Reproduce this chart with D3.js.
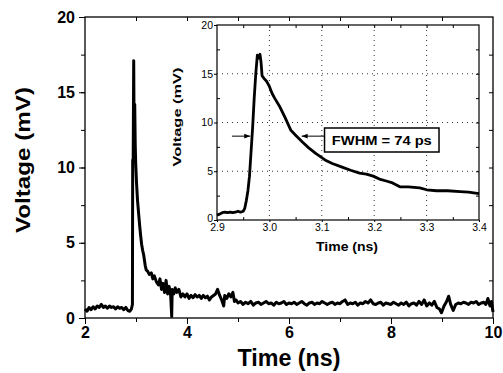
<!DOCTYPE html>
<html>
<head>
<meta charset="utf-8">
<script src="https://cdn.jsdelivr.net/npm/d3@7"></script>
<style>
  body { margin: 0; background: #fff; }
  text { font-family: "Liberation Sans", Arial, sans-serif; }
</style>
</head>
<body>
<div id="chart"></div>
<script>
// main trace (ns, mV)
var mainTime = [2.00,2.04,2.08,2.12,2.16,2.20,2.24,2.28,2.32,2.36,2.40,2.44,2.48,2.52,2.56,2.60,2.64,2.68,2.72,2.76,2.80,2.84,2.88,2.91,2.93,
  2.935,2.945,2.955,2.965,2.975,2.985,2.995,3.01,3.03,3.05,3.07,3.09,3.11,3.13,3.15,3.18,3.20,3.23,3.26,3.30,3.33,3.36,3.40,3.44,3.47,
  3.50,3.53,3.56,3.59,3.62,3.65,3.68,3.70,3.71,3.74,3.77,3.80,3.84,3.88,3.92,3.96,4.00,4.04,4.08,4.12,4.16,4.20,4.24,4.28,4.32,4.36,
  4.40,4.44,4.48,4.52,4.56,4.60,4.64,4.68,4.72,4.74,4.78,4.82,4.86,4.90,4.93,4.96,5.00,5.05,5.10,5.15,5.20,5.25,5.30,5.35,5.40,5.45,
  5.50,5.55,5.60,5.65,5.70,5.75,5.80,5.85,5.90,5.95,6.00,6.05,6.10,6.15,6.20,6.25,6.30,6.35,6.40,6.45,6.50,6.55,6.60,6.65,6.70,6.75,
  6.80,6.85,6.90,6.95,7.00,7.05,7.10,7.15,7.20,7.25,7.30,7.35,7.40,7.45,7.50,7.55,7.60,7.65,7.70,7.75,7.80,7.85,7.90,7.95,8.00,8.05,
  8.10,8.15,8.20,8.25,8.30,8.35,8.40,8.45,8.50,8.55,8.60,8.65,8.70,8.75,8.80,8.85,8.90,8.95,8.99,9.04,9.09,9.13,9.17,9.22,9.27,9.32,
  9.37,9.42,9.47,9.52,9.57,9.62,9.67,9.72,9.77,9.82,9.86,9.90,9.94,9.97,10.0];
var mainVolt = [0.6,0.45,0.7,0.55,0.75,0.6,0.8,0.7,0.9,0.7,0.8,0.65,0.8,0.7,0.75,0.6,0.75,0.65,0.7,0.55,0.7,0.5,0.45,0.6,0.9,
  10.5,10.5,17.1,11.0,14.2,11.5,10.2,9.0,7.8,7.0,6.2,5.5,4.9,4.5,4.2,3.5,3.2,3.1,2.9,3.0,2.6,2.8,2.4,2.2,2.6,
  1.9,2.3,1.7,2.5,1.6,2.1,1.5,0.1,1.9,1.6,2.0,1.7,1.9,1.4,1.6,1.4,1.6,1.3,1.5,1.35,1.55,1.4,1.5,1.3,1.5,1.35,
  1.45,1.2,1.4,1.5,1.6,1.9,1.5,1.2,0.8,1.5,1.3,1.6,1.4,1.7,1.1,1.2,1.0,1.1,0.9,1.05,0.95,1.1,0.85,1.0,1.05,0.9,
  1.0,1.1,0.95,1.0,0.85,1.05,0.95,1.0,1.1,0.9,1.0,0.95,1.05,0.9,1.0,1.1,0.95,0.85,1.0,1.05,0.9,1.0,0.95,1.1,1.0,0.9,
  1.0,1.05,0.9,1.0,0.95,1.1,1.2,0.9,1.0,0.95,1.05,0.85,1.0,0.95,1.1,1.0,1.2,0.95,0.9,1.0,1.05,0.85,1.0,0.95,0.9,1.05,
  0.95,0.85,1.0,0.9,1.05,0.8,0.95,1.0,0.85,1.1,0.9,1.2,0.8,1.0,0.85,1.1,0.7,0.6,0.35,0.8,1.1,1.45,0.9,0.5,0.9,1.0,
  0.95,1.05,1.0,0.9,1.05,1.0,1.1,0.9,1.0,1.05,0.9,1.3,0.8,1.1,0.4];

// inset trace, zoom on the pulse
var insetTime = [2.900,2.905,2.910,2.915,2.920,2.925,2.930,2.935,2.940,2.945,2.950,2.953,2.956,2.959,2.962,2.965,2.968,2.971,2.974,2.977,
  2.980,2.982,2.984,2.986,2.990,2.995,3.000,3.005,3.010,3.019,3.030,3.041,3.050,3.063,3.075,3.089,3.100,3.108,3.120,3.140,
  3.155,3.172,3.185,3.198,3.210,3.223,3.235,3.249,3.265,3.287,3.300,3.319,3.340,3.364,3.380,3.400];
var insetVolt = [0.5,0.6,0.75,0.8,0.75,0.8,0.75,0.8,0.9,0.8,0.9,1.2,2.0,3.0,4.5,7.0,9.5,12.5,15.0,16.9,
  16.6,17.0,16.2,14.8,14.5,14.2,13.7,13.0,12.5,11.7,10.5,9.2,8.7,8.0,7.4,6.8,6.4,6.1,5.8,5.4,
  5.1,4.8,4.7,4.5,4.2,4.0,3.8,3.4,3.4,3.3,3.1,3.0,3.0,2.9,2.85,2.7];

var mainXTicks = [2, 4, 6, 8, 10];
var mainYTicks = [0, 5, 10, 15, 20];
var insetXTicks = [2.9, 3.0, 3.1, 3.2, 3.3, 3.4];
var insetYTicks = [0, 5, 10, 15, 20];
var fwhmLabel = "FWHM = 74 ps";

var width = 503, height = 373;

var svg = d3.select('#chart').append('svg')
    .attr('width', width)
    .attr('height', height);

// ---- main plot ----
var x = d3.scaleLinear().domain([2, 10]).range([85, 493]);
var y = d3.scaleLinear().domain([0, 20]).range([318, 17]);

svg.append('rect')
    .attr('x', x(2)).attr('y', y(20))
    .attr('width', x(10) - x(2)).attr('height', y(0) - y(20))
    .attr('fill', 'none').attr('stroke', '#000').attr('stroke-width', 1.3);

// bottom/left: ticks outward
svg.append('g').attr('transform', 'translate(0,' + y(0) + ')')
    .call(d3.axisBottom(x).tickValues(d3.range(2, 10.01, 1)).tickSize(4).tickFormat(''))
    .call(g => g.select('.domain').remove());
svg.append('g').attr('transform', 'translate(0,' + y(0) + ')')
    .call(d3.axisBottom(x).tickValues(mainXTicks).tickSize(6).tickFormat(d3.format('d')).tickPadding(3))
    .call(g => g.select('.domain').remove())
    .selectAll('text').style('font-size', '16px').style('font-weight', 'bold').attr('fill', '#000');

svg.append('g').attr('transform', 'translate(' + x(2) + ',0)')
    .call(d3.axisLeft(y).tickValues(d3.range(0, 20.01, 2.5)).tickSize(4).tickFormat(''))
    .call(g => g.select('.domain').remove());
svg.append('g').attr('transform', 'translate(' + x(2) + ',0)')
    .call(d3.axisLeft(y).tickValues(mainYTicks).tickSize(6).tickFormat(d3.format('d')).tickPadding(4))
    .call(g => g.select('.domain').remove())
    .selectAll('text').style('font-size', '16px').style('font-weight', 'bold').attr('fill', '#000');

// top/right: ticks inward
svg.append('g').attr('transform', 'translate(0,' + y(20) + ')')
    .call(d3.axisBottom(x).tickValues(d3.range(3, 10, 1)).tickSize(4).tickFormat(''))
    .call(g => g.select('.domain').remove());
svg.append('g').attr('transform', 'translate(' + x(10) + ',0)')
    .call(d3.axisLeft(y).tickValues(d3.range(2.5, 20, 2.5)).tickSize(4).tickFormat(''))
    .call(g => g.select('.domain').remove());

svg.selectAll('.tick line').attr('stroke', '#000');

var mainLine = d3.line()
    .x(function(d, i) { return x(mainTime[i]); })
    .y(function(d) { return y(d); });

svg.append('path')
    .attr('d', mainLine(mainVolt))
    .attr('fill', 'none')
    .attr('stroke', '#000')
    .attr('stroke-width', 3)
    .attr('stroke-linejoin', 'round');

svg.append('text')
    .attr('x', 289).attr('y', 366)
    .attr('text-anchor', 'middle')
    .attr('textLength', 103).attr('lengthAdjust', 'spacingAndGlyphs')
    .style('font-size', '24px').style('font-weight', 'bold')
    .text('Time (ns)');

svg.append('text')
    .attr('transform', 'translate(30,160) rotate(-90)')
    .attr('text-anchor', 'middle')
    .attr('textLength', 146).attr('lengthAdjust', 'spacingAndGlyphs')
    .style('font-size', '20px').style('font-weight', 'bold')
    .text('Voltage (mV)');

// ---- inset ----
var xi = d3.scaleLinear().domain([2.9, 3.4]).range([217, 479]);
var yi = d3.scaleLinear().domain([0, 20]).range([220, 25]);

svg.append('rect')
    .attr('x', xi(2.9)).attr('y', yi(20))
    .attr('width', xi(3.4) - xi(2.9)).attr('height', yi(0) - yi(20))
    .attr('fill', '#fff').attr('stroke', '#000').attr('stroke-width', 1.2);

// dotted grid
svg.append('g').selectAll('line.gx')
    .data(insetXTicks.slice(1, -1)).enter().append('line')
    .attr('x1', d => xi(d)).attr('x2', d => xi(d))
    .attr('y1', yi(20)).attr('y2', yi(0))
    .attr('stroke', '#333').attr('stroke-width', 1).attr('stroke-dasharray', '1,4');
svg.append('g').selectAll('line.gy')
    .data(insetYTicks.slice(1, -1)).enter().append('line')
    .attr('x1', xi(2.9)).attr('x2', xi(3.4))
    .attr('y1', d => yi(d)).attr('y2', d => yi(d))
    .attr('stroke', '#333').attr('stroke-width', 1).attr('stroke-dasharray', '1,4');

// inset ticks
svg.append('g').attr('transform', 'translate(0,' + yi(0) + ')')
    .call(d3.axisTop(xi).tickValues(d3.range(2.95, 3.4, 0.1)).tickSize(3).tickFormat(''))
    .call(g => g.select('.domain').remove());
svg.append('g').attr('transform', 'translate(0,' + yi(0) + ')')
    .call(d3.axisBottom(xi).tickValues(insetXTicks).tickSize(2).tickFormat(d3.format('.1f')).tickPadding(2))
    .call(g => g.select('.domain').remove())
    .selectAll('text').style('font-size', '10.5px').attr('fill', '#000');
svg.append('g').attr('transform', 'translate(0,' + yi(20) + ')')
    .call(d3.axisBottom(xi).tickValues(d3.range(2.95, 3.4, 0.05)).tickSize(3).tickFormat(''))
    .call(g => g.select('.domain').remove());
svg.append('g').attr('transform', 'translate(' + xi(2.9) + ',0)')
    .call(d3.axisRight(yi).tickValues(d3.range(2.5, 20, 5)).tickSize(3).tickFormat(''))
    .call(g => g.select('.domain').remove());
svg.append('g').attr('transform', 'translate(' + xi(2.9) + ',0)')
    .call(d3.axisLeft(yi).tickValues(insetYTicks).tickSize(3).tickFormat(d3.format('d')).tickPadding(1))
    .call(g => g.select('.domain').remove())
    .selectAll('text').style('font-size', '10.5px').attr('fill', '#000')
    .attr('dy', d => d === 0 ? '0.1em' : '0.32em');
svg.append('g').attr('transform', 'translate(' + xi(3.4) + ',0)')
    .call(d3.axisLeft(yi).tickValues(d3.range(2.5, 20, 2.5)).tickSize(3).tickFormat(''))
    .call(g => g.select('.domain').remove());

svg.selectAll('.tick line').attr('stroke', '#000');

var insetLine = d3.line()
    .x(function(d, i) { return xi(insetTime[i]); })
    .y(function(d) { return yi(d); });

svg.append('path')
    .attr('d', insetLine(insetVolt))
    .attr('fill', 'none')
    .attr('stroke', '#000')
    .attr('stroke-width', 2.8)
    .attr('stroke-linejoin', 'round');

svg.append('text')
    .attr('x', 347).attr('y', 251)
    .attr('text-anchor', 'middle')
    .attr('textLength', 62).attr('lengthAdjust', 'spacingAndGlyphs')
    .style('font-size', '12.5px').style('font-weight', 'bold')
    .text('Time (ns)');

svg.append('text')
    .attr('transform', 'translate(181,117) rotate(-90)')
    .attr('text-anchor', 'middle')
    .attr('textLength', 99).attr('lengthAdjust', 'spacingAndGlyphs')
    .style('font-size', '11.5px').style('font-weight', 'bold')
    .text('Voltage (mV)');

// FWHM arrows and label
svg.append('defs').append('marker')
    .attr('id', 'head')
    .attr('viewBox', '0 0 10 10')
    .attr('refX', 10).attr('refY', 5)
    .attr('markerWidth', 6).attr('markerHeight', 6)
    .attr('orient', 'auto')
  .append('path')
    .attr('d', 'M0,1 L10,5 L0,9 z')
    .attr('fill', '#000');

var fwhmY = yi(8.6);
svg.append('line')
    .attr('x1', xi(2.9285)).attr('x2', xi(2.9635))
    .attr('y1', fwhmY).attr('y2', fwhmY)
    .attr('stroke', '#000').attr('stroke-width', 1)
    .attr('marker-end', 'url(#head)');
svg.append('line')
    .attr('x1', xi(3.1052)).attr('x2', xi(3.0615))
    .attr('y1', fwhmY).attr('y2', fwhmY)
    .attr('stroke', '#000').attr('stroke-width', 1)
    .attr('marker-end', 'url(#head)');

svg.append('rect')
    .attr('x', xi(3.1052)).attr('y', 128)
    .attr('width', xi(3.3237) - xi(3.1052)).attr('height', 24)
    .attr('fill', '#fff').attr('stroke', '#000').attr('stroke-width', 1.5);
svg.append('text')
    .attr('x', xi(3.2145)).attr('y', 144.5)
    .attr('text-anchor', 'middle')
    .attr('textLength', 100).attr('lengthAdjust', 'spacingAndGlyphs')
    .style('font-size', '12.5px').style('font-weight', 'bold')
    .text(fwhmLabel);
</script>
</body>
</html>
